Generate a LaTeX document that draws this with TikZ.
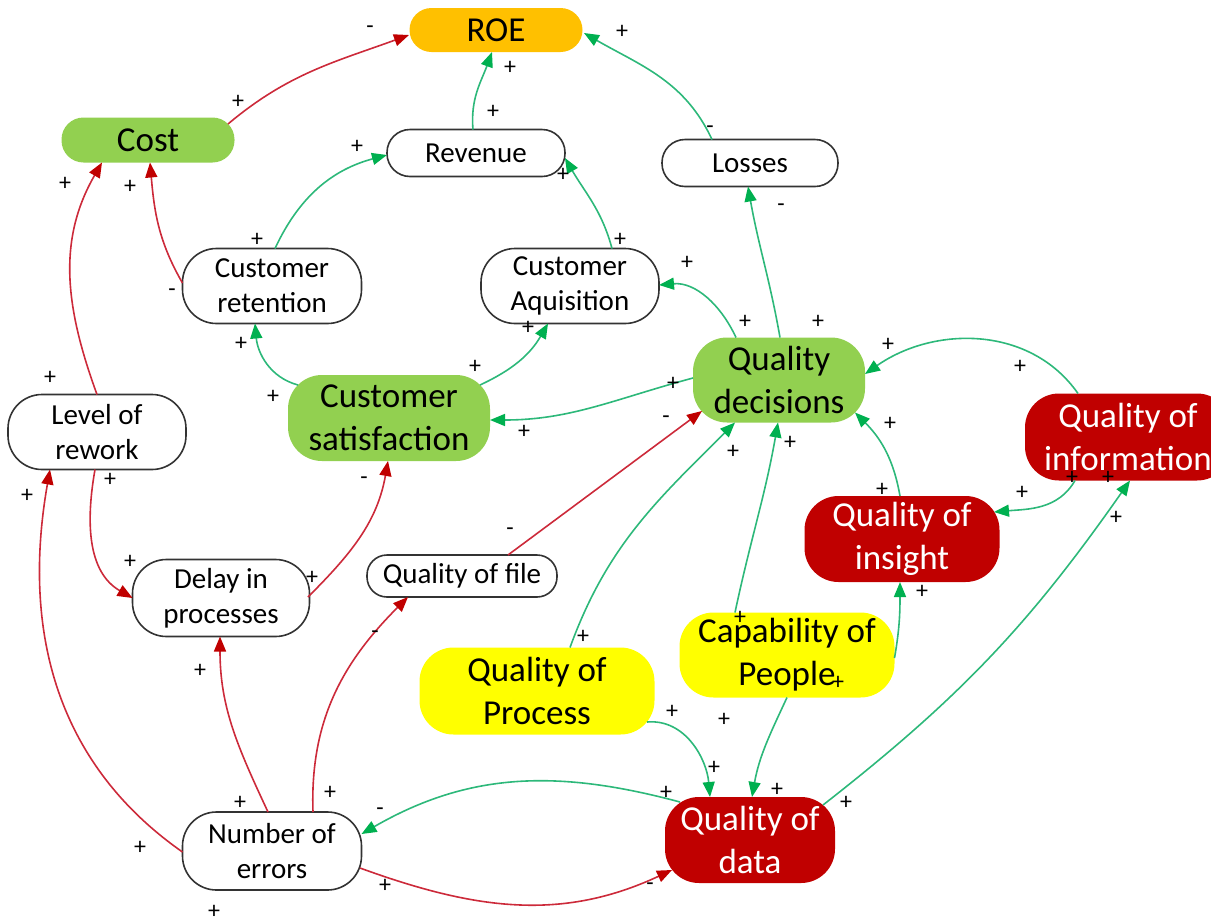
\documentclass[tikz,border=0pt]{standalone}
\usepackage{fontspec}
\setmainfont{Carlito}
\usetikzlibrary{arrows.meta,calc}

\definecolor{roeorange}{HTML}{FFC000}
\definecolor{leafgreen}{HTML}{92D050}
\definecolor{darkred}{HTML}{C00000}
\definecolor{brightyellow}{HTML}{FFFF00}
\definecolor{linkgreen}{HTML}{2DB87A}
\definecolor{headgreen}{HTML}{00B050}
\definecolor{linkred}{HTML}{CC2A3A}
\definecolor{headred}{HTML}{C00000}

\begin{document}
\begin{tikzpicture}[x=0.5pt,y=0.5pt,
  box/.style={rectangle, align=center, inner sep=0pt},
  whitebox/.style={box, draw=black!80, line width=0.8pt, fill=white,
    font=\fontsize{14.5}{17.5}\selectfont},
  colourbox/.style={box, font=\fontsize{17.5}{21.5}\selectfont},
  greenbox/.style={colourbox, fill=leafgreen},
  redbox/.style={colourbox, fill=darkred, text=white},
  yellowbox/.style={colourbox, fill=brightyellow},
  orangebox/.style={colourbox, fill=roeorange},
  sgn/.style={inner sep=0pt, font=\fontsize{12}{12}\selectfont},
  glink/.style={draw=linkgreen, line width=0.8pt,
    -{Triangle[length=7.5pt,width=6pt,color=headgreen]}},
  rlink/.style={draw=linkred, line width=0.8pt,
    -{Triangle[length=7.5pt,width=6pt,color=headred]}}
]
\useasboundingbox (0,0) rectangle (1211,-922);
\clip (0,0) rectangle (1211,-922);

% ---- variables ----
\node[orangebox, minimum width=86.5pt, minimum height=22pt, rounded corners=11pt] (roe) at (496,-30) {ROE};
\node[greenbox, minimum width=86.5pt, minimum height=22.5pt, rounded corners=11pt] (cost) at (148,-140) {Cost};
\node[whitebox, minimum width=89pt, minimum height=23.5pt, rounded corners=11.5pt] (rev) at (476,-153) {Revenue};
\node[whitebox, minimum width=88pt, minimum height=23.5pt, rounded corners=11.5pt] (loss) at (750,-163) {Losses};
\node[whitebox, minimum width=89.5pt, minimum height=37.5pt, rounded corners=17pt] (ret) at (272,-286) {Customer\\retention};
\node[whitebox, minimum width=89pt, minimum height=37.5pt, rounded corners=17pt] (acq) at (570,-286) {Customer\\Aquisition};
\node[greenbox, minimum width=101pt, minimum height=43pt, rounded corners=17pt] (sat) at (389,-418) {Customer\\satisfaction};
\node[greenbox, minimum width=86pt, minimum height=42.5pt, rounded corners=17pt] (dec) at (779,-380) {Quality\\decisions};
\node[whitebox, minimum width=89pt, minimum height=37.5pt, rounded corners=17pt] (rew) at (97,-432) {Level of\\rework};
\node[redbox, minimum width=103pt, minimum height=43.5pt, rounded corners=17pt] (info) at (1128,-437) {Quality of\\information};
\node[redbox, minimum width=97.5pt, minimum height=43pt, rounded corners=17pt] (ins) at (902,-539) {Quality of\\insight};
\node[whitebox, minimum width=88.5pt, minimum height=38.5pt, rounded corners=17pt] (del) at (221,-598) {Delay in\\processes};
\node[whitebox, minimum width=95pt, minimum height=21pt, rounded corners=10pt] (file) at (462,-576) {Quality of file};
\node[yellowbox, minimum width=117.5pt, minimum height=43.5pt, rounded corners=17pt] (proc) at (537,-691) {Quality of\\Process};
\node[yellowbox, minimum width=107.5pt, minimum height=42.5pt, rounded corners=17pt] (ppl) at (787,-655) {Capability of\\People};
\node[whitebox, minimum width=89.5pt, minimum height=39pt, rounded corners=17pt] (err) at (272,-851) {Number of\\errors};
\node[redbox, minimum width=85pt, minimum height=43pt, rounded corners=17pt] (dat) at (750,-840) {Quality of\\data};

% ---- causal links ----
\draw[rlink] ($(cost)+(80,16)$) to[out=40,in=200] ($(roe)+(-87,-5)$);
\draw[glink] ($(rev)+(-3,23.5)$) to[out=95,in=-110] ($(roe)+(-4,-22)$);
\draw[glink] ($(loss)+(-38,23.5)$) to[out=115,in=-30] ($(roe)+(88,-3)$);
\draw[glink] ($(ret)+(3,37.5)$) to[out=65,in=195] ($(rev)+(-89,-2)$);
\draw[glink] ($(acq)+(42,37.5)$) to[out=105,in=-60] ($(rev)+(89,-5)$);
\draw[rlink] ($(ret)+(-89.5,3)$) to[out=120,in=-85] ($(cost)+(2,-22.5)$);
\draw[rlink] ($(rew)+(0,37.5)$) to[out=110,in=-120] ($(cost)+(-46,-22.5)$);
\draw[glink] ($(sat)+(-91,33)$) to[out=165,in=-85] ($(ret)+(-17,-37.5)$);
\draw[glink] ($(sat)+(91,33)$) to[out=25,in=-120] ($(acq)+(-22,-37.5)$);
\draw[glink] ($(dec)+(-86,2)$) to[out=195,in=0] ($(sat)+(101,-2)$);
\draw[glink] ($(dec)+(-43,42.5)$) to[out=115,in=5] ($(acq)+(89,1)$);
\draw[glink] ($(dec)+(1,42.5)$) to[out=100,in=-80] ($(loss)+(-2,-23.5)$);
\draw[glink] ($(info)+(-50,43.5)$) to[out=125,in=35] ($(dec)+(86,6)$);
\draw[glink] ($(ins)+(-2,43)$) to[out=100,in=-45] ($(dec)+(76,-32.5)$);
\draw[glink] ($(info)+(-53,-43.5)$) to[out=-120,in=5] ($(ins)+(92,27)$);
\draw[glink] ($(dat)+(73,35)$) to[out=38,in=-125] ($(info)+(2,-43.5)$);
\draw[glink] ($(ppl)+(-52,42.5)$) to[out=78,in=-100] ($(dec)+(-1,-42.5)$);
\draw[glink] ($(ppl)+(107.5,-3)$) to[out=80,in=-90] ($(ins)+(-2,-43)$);
\draw[glink] ($(proc)+(33,43.5)$) to[out=70,in=-135] ($(dec)+(-44,-42.5)$);
\draw[glink] ($(proc)+(110,-31)$) to[out=5,in=95] ($(dat)+(-40,43)$);
\draw[glink] ($(ppl)+(0,-42.5)$) to[out=-115,in=80] ($(dat)+(2,43)$);
\draw[glink] ($(dat)+(-70,38)$) to[out=165,in=30] ($(err)+(89.5,17)$);
\draw[rlink] ($(err)+(88,-17)$) to[out=-20,in=205] ($(dat)+(-78,-30)$);
\draw[rlink] ($(err)+(-89.5,-1)$) to[out=145,in=-100] ($(rew)+(-47,-37.5)$);
\draw[rlink] ($(err)+(-4,39)$) to[out=115,in=-90] ($(del)+(-1,-38.5)$);
\draw[rlink] ($(err)+(41,39)$) to[out=92,in=-135] ($(file)+(-54,-21)$);
\draw[rlink] ($(rew)+(-2,-37.5)$) to[out=-100,in=150] ($(del)+(-88.5,0)$);
\draw[rlink] ($(del)+(87,1)$) to[out=45,in=-100] ($(sat)+(-1,-43)$);
\draw[rlink] ($(file)+(46,21)$) -- ($(dec)+(-77,-31)$);

% ---- polarity signs ----
\foreach [count=\i] \x/\y/\s in {
  238/102/+, 370/30/-, 510/68/+, 493/112/+, 622/32/+, 710/130/-,
  357/147/+, 563/175/+, 257/240/+, 620/240/+, 172/293/-, 130/187/+,
  65/184/+, 50/378/+, 273/397/+, 241/344/+, 475/367/+, 528/328/+,
  673/384/+, 524/432/+, 745/322/+, 687/263/+, 818/322/+, 781/208/-,
  1020/367/+, 888/345/+, 882/490/+, 890/424/+, 1072/478/+, 1108/478/+,
  1022/493/+, 846/803/+, 1116/518/+, 740/618/+, 790/443/+, 922/592/+,
  838/683/+, 583/637/+, 733/452/+, 672/712/+, 714/768/+, 724/720/+,
  777/790/+, 666/793/+, 380/812/-, 385/886/+, 650/887/-, 140/848/+,
  27/496/+, 214/912/+, 240/803/+, 200/671/+, 330/793/+, 375/635/-,
  110/480/+, 130/562/+, 312/578/+, 364/481/-, 510/532/-, 666/420/-}
  \node[sgn] (sign\i) at (\x,-\y) {\s};
\end{tikzpicture}
\end{document}
